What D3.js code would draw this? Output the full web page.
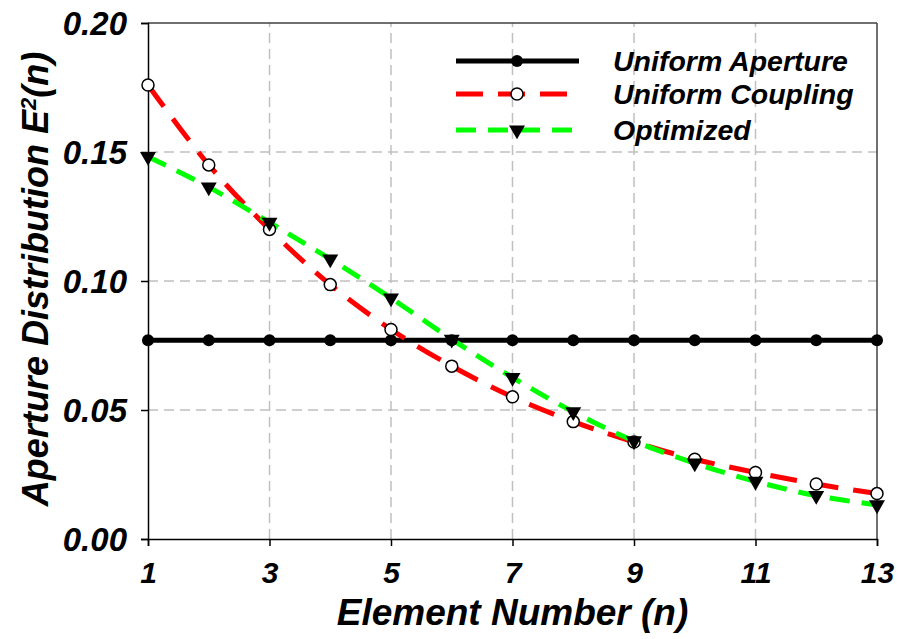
<!DOCTYPE html>
<html lang="en">
<head>
<meta charset="UTF-8">
<title>Aperture Distribution</title>
<script src="https://d3js.org/d3.v7.min.js"></script>
<style>
    body { margin: 0; background: #fff; }
    text { font-family: "Liberation Sans", Arial, sans-serif; font-weight: bold; font-style: italic; fill: #000; }
</style>
</head>
<body>
<script>
    // data
    const elements = [1, 2, 3, 4, 5, 6, 7, 8, 9, 10, 11, 12, 13];
    const uniformAperture = [0.077, 0.077, 0.077, 0.077, 0.077, 0.077, 0.077, 0.077, 0.077, 0.077, 0.077, 0.077, 0.077];
    const uniformCoupling = [0.176, 0.145, 0.120, 0.0986, 0.0812, 0.0670, 0.0551, 0.0455, 0.0376, 0.0309, 0.0258, 0.0213, 0.0176];
    const optimized = [0.1482, 0.1364, 0.1227, 0.1085, 0.0934, 0.0774, 0.0626, 0.0493, 0.0380, 0.0294, 0.0223, 0.0168, 0.0132];
    const xTicks = [1, 3, 5, 7, 9, 11, 13];
    const yTicks = [0.00, 0.05, 0.10, 0.15, 0.20];
    const seriesNames = ["Uniform Aperture", "Uniform Coupling", "Optimized"];

    const width = 899, height = 639;
    const margin = { left: 148, right: 22, top: 23, bottom: 100 };

    const svg = d3.select("body").append("svg")
        .attr("width", width)
        .attr("height", height);

    const x = d3.scaleLinear().domain([1, 13]).range([margin.left, width - margin.right]);
    const y = d3.scaleLinear().domain([0, 0.2]).range([height - margin.bottom, margin.top]);

    // grid
    const grid = svg.append("g");
    grid.selectAll(".vg")
        .data(xTicks.slice(1, -1))
        .enter().append("line")
        .attr("x1", d => x(d)).attr("x2", d => x(d))
        .attr("y1", y(0)).attr("y2", y(0.2))
        .attr("stroke", "#c0c0c0").attr("stroke-width", 1.5)
        .attr("stroke-dasharray", "10,6");
    grid.selectAll(".hg")
        .data(yTicks.slice(1, -1))
        .enter().append("line")
        .attr("x1", x(1)).attr("x2", x(13))
        .attr("y1", d => y(d)).attr("y2", d => y(d))
        .attr("stroke", "#c0c0c0").attr("stroke-width", 1.5)
        .attr("stroke-dasharray", "10,6");

    // frame
    svg.append("line")
        .attr("x1", x(1)).attr("x2", x(13)).attr("y1", y(0.2)).attr("y2", y(0.2))
        .attr("stroke", "#404040").attr("stroke-width", 1.5);
    svg.append("line")
        .attr("x1", x(13)).attr("x2", x(13)).attr("y1", y(0.2)).attr("y2", y(0))
        .attr("stroke", "#404040").attr("stroke-width", 1.5);

    // axes
    const xAxis = svg.append("g")
        .attr("transform", `translate(0,${y(0)})`)
        .call(d3.axisBottom(x).tickValues(xTicks).tickSize(7).tickPadding(10).tickFormat(d3.format("d")));
    const yAxis = svg.append("g")
        .attr("transform", `translate(${x(1)},0)`)
        .call(d3.axisLeft(y).tickValues(yTicks).tickSize(7).tickPadding(14).tickFormat(d3.format(".2f")));
    [xAxis, yAxis].forEach(a => {
        a.select(".domain").attr("stroke", "#000").attr("stroke-width", 1.5);
        a.selectAll(".tick line").attr("stroke", "#000").attr("stroke-width", 1.5);
        a.selectAll("text")
            .attr("fill", "#000")
            .style("font-family", "'Liberation Sans', Arial, sans-serif")
            .style("font-size", "30px")
            .style("font-weight", "bold")
            .style("font-style", "italic");
    });
    xAxis.selectAll("text").attr("dy", "0.9em");
    yAxis.selectAll("text").attr("dy", "0.36em").style("font-size", "33px");

    // axis titles
    svg.append("text")
        .attr("x", (x(1) + x(13)) / 2)
        .attr("y", 625)
        .attr("text-anchor", "middle")
        .style("font-size", "37px")
        .text("Element Number (n)");

    const yTitle = svg.append("text")
        .attr("transform", `translate(48,${(y(0) + y(0.2)) / 2 - 2}) rotate(-90)`)
        .attr("text-anchor", "middle")
        .style("font-size", "36px");
    yTitle.append("tspan").text("Aperture Distribution E");
    yTitle.append("tspan").attr("baseline-shift", "super").style("font-size", "22px").text("2");
    yTitle.append("tspan").text("(n)");

    // series
    const pts = vals => elements.map((e, i) => [x(e), y(vals[i])]);

    svg.append("path")
        .attr("d", d3.line().curve(d3.curveLinear)(pts(uniformAperture)))
        .attr("fill", "none").attr("stroke", "#000").attr("stroke-width", 5);

    svg.append("path")
        .attr("d", d3.line().curve(d3.curveCatmullRom)(pts(uniformCoupling)))
        .attr("fill", "none").attr("stroke", "#ff0000").attr("stroke-width", 5)
        .attr("stroke-dasharray", "27,15");

    svg.append("path")
        .attr("d", d3.line().curve(d3.curveCatmullRom)(pts(optimized)))
        .attr("fill", "none").attr("stroke", "#00ff00").attr("stroke-width", 5)
        .attr("stroke-dasharray", "20,12");

    const tri = d3.symbol().type(d3.symbolTriangle).size(110);

    svg.selectAll(".dot")
        .data(pts(uniformAperture))
        .enter().append("circle")
        .attr("cx", d => d[0]).attr("cy", d => d[1]).attr("r", 6)
        .attr("fill", "#000");

    svg.selectAll(".ring")
        .data(pts(uniformCoupling))
        .enter().append("circle")
        .attr("cx", d => d[0]).attr("cy", d => d[1]).attr("r", 6)
        .attr("fill", "#fff").attr("stroke", "#000").attr("stroke-width", 1.5);

    svg.selectAll(".tri")
        .data(pts(optimized))
        .enter().append("path")
        .attr("d", tri)
        .attr("transform", d => `translate(${d[0]},${d[1]}) rotate(180)`)
        .attr("fill", "#000");

    // legend
    const legend = svg.append("g");
    const rowsY = [61, 94, 130];
    const styles = [
        { color: "#000", dash: null },
        { color: "#ff0000", dash: "27,15" },
        { color: "#00ff00", dash: "20,12" }
    ];
    seriesNames.forEach((name, i) => {
        legend.append("line")
            .attr("x1", 456).attr("x2", 579)
            .attr("y1", rowsY[i]).attr("y2", rowsY[i])
            .attr("stroke", styles[i].color).attr("stroke-width", 5)
            .attr("stroke-dasharray", styles[i].dash);
        if (i === 0) {
            legend.append("circle").attr("cx", 517).attr("cy", rowsY[i]).attr("r", 6).attr("fill", "#000");
        } else if (i === 1) {
            legend.append("circle").attr("cx", 517).attr("cy", rowsY[i]).attr("r", 6)
                .attr("fill", "#fff").attr("stroke", "#000").attr("stroke-width", 1.5);
        } else {
            legend.append("path").attr("d", tri)
                .attr("transform", `translate(517,${rowsY[i]}) rotate(180)`).attr("fill", "#000");
        }
        legend.append("text")
            .attr("x", 613).attr("y", rowsY[i] + 10)
            .style("font-size", "28.5px")
            .text(name);
    });
</script>
</body>
</html>
